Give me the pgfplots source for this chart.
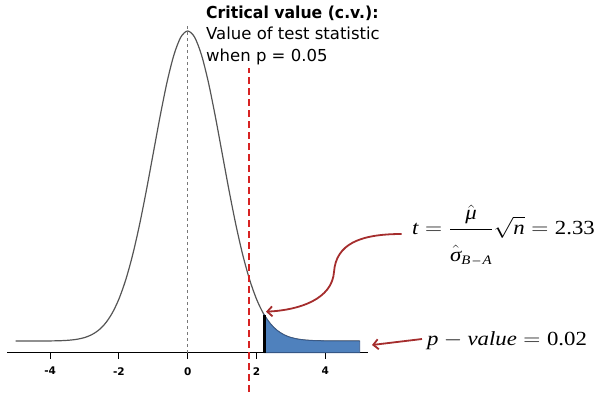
\documentclass[border=0pt]{standalone}
\usepackage{graphicx}
\usepackage{pgfplots}
\pgfplotsset{compat=1.18}
\usepackage{fontspec}
\setmainfont{DejaVu Sans}
\newfontfamily\tms{Liberation Serif}
\usetikzlibrary{arrows.meta}
\definecolor{curvegray}{RGB}{85,85,85}
\definecolor{dashgray}{RGB}{120,120,120}
\definecolor{cvred}{RGB}{215,35,35}
\definecolor{arrowred}{RGB}{165,45,45}
\definecolor{pblue}{RGB}{79,129,189}
\definecolor{pbluedark}{RGB}{55,90,140}
\newcommand\ti[1]{\mbox{\tms\itshape #1}}
\newcommand\tr[1]{\mbox{\tms #1}}

\begin{document}
\begin{tikzpicture}[x=1pt,y=1pt]
\path[use as bounding box] (0,0) rectangle (604,394);
\begin{axis}[
  at={(7.1pt,41.3pt)}, anchor=south west,
  scale only axis, width=361.2pt, height=337.2pt,
  xmin=-5.25, xmax=5.25, ymin=-0.0377, ymax=1.05,
  axis x line*=bottom, axis y line=none,
  x axis line style={line width=1.1pt, black},
  xtick={-4,-2,0,2,4}, xticklabels={-4,-2,0,2,4},
  tick align=outside, major tick length=6pt,
  tick style={black, line width=1pt},
  xticklabel style={font=\fontsize{10.5}{11}\selectfont\bfseries, yshift=-5pt},
  clip=false,
]
% density curve
\addplot[curvegray, line width=1.2pt, smooth] coordinates {
(-5.0,0) (-4.8,0) (-4.6,0) (-4.4,0.0001) (-4.2,0.0001) (-4.0,0.0003)
(-3.8,0.0007) (-3.6,0.0015) (-3.4,0.0031) (-3.2,0.0060) (-3.0,0.0111)
(-2.8,0.0198) (-2.6,0.0340) (-2.4,0.0561) (-2.2,0.0889) (-2.0,0.1353)
(-1.8,0.1979) (-1.6,0.2780) (-1.4,0.3753) (-1.2,0.4868) (-1.0,0.6065)
(-0.8,0.7261) (-0.6,0.8353) (-0.4,0.9231) (-0.2,0.9802) (0,1.0000)
(0.2,0.9802) (0.4,0.9231) (0.6,0.8353) (0.8,0.7261) (1.0,0.6065)
(1.2,0.4868) (1.4,0.3753) (1.6,0.2780) (1.8,0.1979) (2.0,0.1353)
(2.2,0.0889) (2.4,0.0561) (2.6,0.0340) (2.8,0.0198) (3.0,0.0111)
(3.2,0.0060) (3.4,0.0031) (3.6,0.0015) (3.8,0.0007) (4.0,0.0003)
(4.2,0.0001) (4.4,0.0001) (4.6,0) (4.8,0) (5.0,0)
};
% shaded p-value tail
\addplot[fill=pblue, draw=pbluedark, line width=0.8pt] coordinates {
(2.22,-0.0377) (2.22,0.0851) (2.3,0.0710) (2.4,0.0561) (2.5,0.0439)
(2.6,0.0340) (2.7,0.0261) (2.8,0.0198) (2.9,0.0149) (3.0,0.0111)
(3.2,0.0060) (3.4,0.0031) (3.6,0.0015) (3.8,0.0007) (4.0,0.0003)
(4.5,0) (5.0,0) (5.0,-0.0377)
} -- cycle;
% observed statistic line
\addplot[black, line width=3pt] coordinates {(2.22,-0.0377) (2.22,0.0851)};
% centre line
\addplot[dashgray, line width=1pt, dash pattern=on 3pt off 3pt] coordinates {(0,-0.0377) (0,1.02)};
% critical value line
\addplot[cvred, line width=2.4pt, dash pattern=on 7pt off 4pt] coordinates {(1.78,-0.165) (1.78,0.881)};
\end{axis}
% annotations
\node[anchor=base west, inner sep=0, font=\fontsize{16.5}{20}\selectfont\bfseries] at (206,375.5) {\scalebox{0.95}[1]{Critical value (c.v.):}};
\node[anchor=base west, inner sep=0, font=\fontsize{16.5}{20}\selectfont] at (206,354) {Value of test statistic};
\node[anchor=base west, inner sep=0, font=\fontsize{16.5}{20}\selectfont] at (206,332.5) {when p = 0.05};
\node[anchor=base west, inner sep=0, font=\fontsize{20}{24}\selectfont] at (412,160)
  {\scalebox{1.14}[1]{$\ti{t}=\displaystyle\frac{\hat{\ti{μ}}\rule[-4pt]{0pt}{16pt}}{\rule{0pt}{31pt}\hat{\ti{σ}}_{\mbox{\tms\itshape\fontsize{13}{13}\selectfont B\,–\,A}}}\sqrt{\ti{n}}=\tr{2.33}$}};
\node[anchor=base west, inner sep=0, font=\fontsize{20}{24}\selectfont] at (427,49)
  {\scalebox{1.14}[1]{$\ti{p}-\ti{value}=\tr{0.02}$}};
\draw[arrowred, line width=1.8pt, -{Straight Barb[length=5pt,width=10pt]}]
  (401.7,160) .. controls (360,160) and (336,150) .. (334,122)
  .. controls (332,95) and (300,84) .. (266,82.3);
\draw[arrowred, line width=1.8pt, -{Straight Barb[length=5pt,width=10pt]}]
  (422,55) -- (372,49);
\end{tikzpicture}
\end{document}
